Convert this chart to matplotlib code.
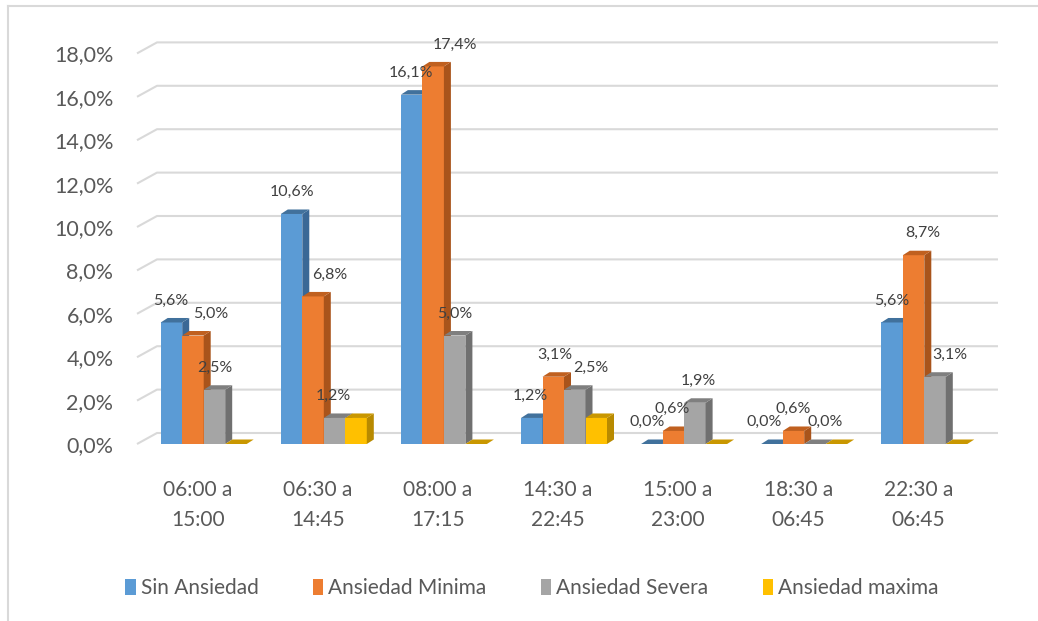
import numpy as np
import matplotlib
matplotlib.use("Agg")
import matplotlib.pyplot as plt
from matplotlib.patches import Polygon, Patch
from matplotlib.lines import Line2D
from matplotlib.transforms import ScaledTranslation

plt.rcParams["font.family"] = ["Lato", "DejaVu Sans"]

# datos
turnos = ["06:00 a\n15:00", "06:30 a\n14:45", "08:00 a\n17:15", "14:30 a\n22:45",
          "15:00 a\n23:00", "18:30 a\n06:45", "22:30 a\n06:45"]
series = ["Sin Ansiedad", "Ansiedad Minima", "Ansiedad Severa", "Ansiedad maxima"]
sin_ansiedad = [5.6, 10.6, 16.1, 1.2, 0.0, 0.0, 5.6]
ansiedad_minima = [5.0, 6.8, 17.4, 3.1, 0.6, 0.6, 8.7]
ansiedad_severa = [2.5, 1.2, 5.0, 2.5, 1.9, 0.0, 3.1]
ansiedad_maxima = [0.0, 1.2, 0.0, 1.2, 0.0, 0.0, 0.0]
valores = [sin_ansiedad, ansiedad_minima, ansiedad_severa, ansiedad_maxima]
yticks = [0, 2, 4, 6, 8, 10, 12, 14, 16, 18]

# colores (frente, arriba, lado)
frente = ["#5B9BD5", "#ED7D31", "#A5A5A5", "#FFC000"]
arriba = ["#41719C", "#C0601F", "#7F7F7F", "#C99700"]
lado = ["#3A6896", "#A9541B", "#707070", "#B88A00"]

# desplazamiento de las etiquetas (px) para que no se pisen; None = sin etiqueta
etiq_dx = [[-1, 18, 0, None], [0, 17, -1, None], [-1, 22, 0, None], [-1, 2, 16, None],
           [-5, -1, 3, None], [-8, 0, 10, None], [0, 9, 15, None]]

W, H = 1038, 621
fig = plt.figure(figsize=(W / 100, H / 100), dpi=100)
fig.patch.set_facecolor("white")

# geometria en pixeles
px_x = 120.1      # px por categoria
px_y = 21.7       # px por 1 %
c0 = 203.7        # centro del primer grupo
ax_left, ax_right = 137, 978
y0 = 444
ymax = 19
xlim = ((ax_left - c0) / px_x, (ax_right - c0) / px_x)
ax = fig.add_axes([ax_left / W, (H - y0) / H, (ax_right - ax_left) / W, ymax * px_y / H])
ax.set_xlim(*xlim)
ax.set_ylim(0, ymax)
for s in ax.spines.values():
    s.set_visible(False)

# profundidad de las barras y de la pared del fondo
dx = 7 / px_x
dy = 4.5 / px_y
gdx = 20 / px_x
gdy = 11 / px_y

# lineas de la cuadricula (suelo-pared)
for t in yticks:
    ax.plot([xlim[0], xlim[0] + gdx, xlim[1] + gdx], [t, t + gdy, t + gdy],
            color="#D9D9D9", lw=1.5, zorder=1, clip_on=False, solid_capstyle="butt")

w = 21.5 / px_x
x = np.arange(len(turnos))
for k, vals in enumerate(valores):
    xs = x + (k - 1.5) * w
    ax.bar(xs, vals, width=w, color=frente[k], zorder=3 + k, linewidth=0)
    for i, h in enumerate(vals):
        x0, x1 = xs[i] - w / 2, xs[i] + w / 2
        ax.add_patch(Polygon([(x1, 0), (x1 + dx, dy), (x1 + dx, h + dy), (x1, h)],
                             closed=True, fc=lado[k], ec="none", zorder=3 + k, clip_on=False))
        ax.add_patch(Polygon([(x0, h), (x1, h), (x1 + dx, h + dy), (x0 + dx, h + dy)],
                             closed=True, fc=arriba[k], ec="none", zorder=3 + k, clip_on=False))
        off = etiq_dx[i][k]
        if off is not None:
            ax.annotate(f"{h:.1f}%".replace(".", ","), xy=(xs[i], h),
                        xytext=(off * 0.72, 22 * 0.72), textcoords="offset points",
                        ha="center", va="center", fontsize=11.5, color="#404040", zorder=10)

ax.set_yticks(yticks)
ax.set_yticklabels([f"{t:.1f}%".replace(".", ",") for t in yticks])
ax.tick_params(axis="y", length=0, pad=17, labelsize=15.5, labelcolor="#595959")

ax.set_xticks(x)
ax.set_xticklabels(turnos, fontsize=15, color="#595959", linespacing=1.6)
ax.tick_params(axis="x", length=0, pad=26)
for lab in ax.get_xticklabels():
    lab.set_transform(lab.get_transform() + ScaledTranslation(-6 / 100, 0, fig.dpi_scale_trans))

# leyenda
handles = [Patch(facecolor=c, edgecolor="none") for c in frente]
fig.legend(handles, series, loc="center", bbox_to_anchor=(532 / W, (H - 588) / H),
           ncol=4, frameon=False, handlelength=0.5, handleheight=0.8, handletextpad=0.25,
           columnspacing=2.6, prop={"size": 15}, labelcolor="#595959")

# borde del area del grafico
fig.add_artist(Line2D([8 / W, 8 / W], [0, 1 - 6 / H], color="#D9D9D9", lw=1.5))
fig.add_artist(Line2D([8 / W, 1], [1 - 6 / H, 1 - 6 / H], color="#D9D9D9", lw=1.5))

fig.savefig("out.png", dpi=100)
